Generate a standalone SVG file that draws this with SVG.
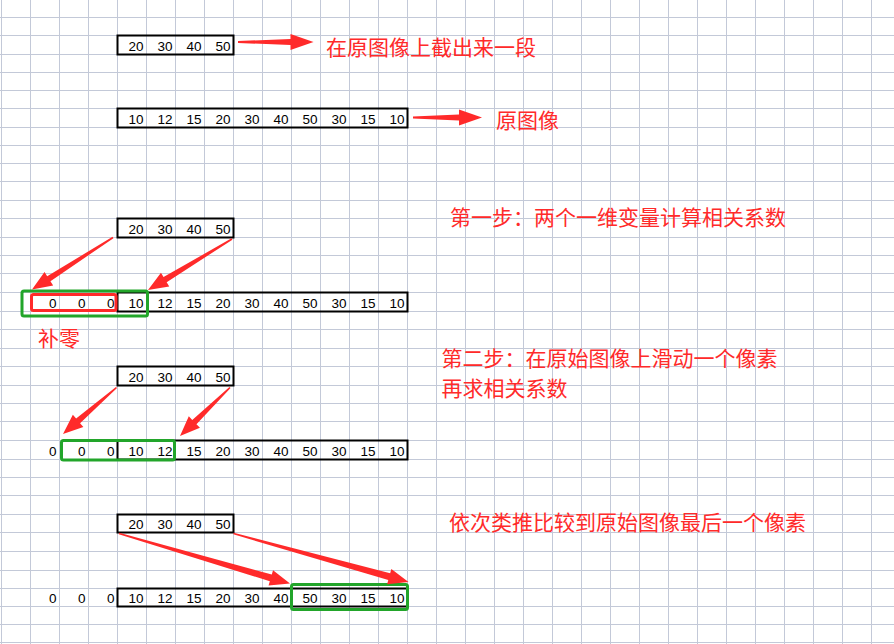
<svg xmlns="http://www.w3.org/2000/svg" width="894" height="644" viewBox="0 0 894 644">
<defs>
<style>
.grid{stroke:#c3c9d8;stroke-width:1;fill:none}
.box{fill:none;stroke:#000;stroke-width:2}
.num{font-family:"Liberation Sans",Arial,sans-serif;font-size:13.5px;fill:#000;text-anchor:end}
.lbl{font-family:"Noto Sans CJK SC","Liberation Sans",sans-serif;font-size:21px;fill:#ff2a2a}
.arr{fill:#ff2a2a;stroke:none}
.gbox{fill:none;stroke:#22a52a;stroke-width:3}
.rbox{fill:none;stroke:#ff2a2a;stroke-width:3}
</style>
</defs>
<rect width="894" height="644" fill="#fff"/>
<g id="grid" class="grid">
<path d="M1.5 0V644M30.5 0V644M59.5 0V644M88.5 0V644M117.5 0V644M146.5 0V644M175.5 0V644M204.5 0V644M233.5 0V644M262.5 0V644M291.5 0V644M320.5 0V644M349.5 0V644M378.5 0V644M407.5 0V644M436.5 0V644M465.5 0V644M494.5 0V644M523.5 0V644M552.5 0V644M581.5 0V644M610.5 0V644M639.5 0V644M668.5 0V644M697.5 0V644M726.5 0V644M755.5 0V644M784.5 0V644M813.5 0V644M842.5 0V644M871.5 0V644"/>
<path d="M0 17.5H894M0 35.5H894M0 54.5H894M0 72.5H894M0 90.5H894M0 108.5H894M0 127.5H894M0 145.5H894M0 163.5H894M0 181.5H894M0 200.5H894M0 218.5H894M0 237.5H894M0 255.5H894M0 273.5H894M0 292.5H894M0 311.5H894M0 329.5H894M0 348.5H894M0 366.5H894M0 385.5H894M0 403.5H894M0 421.5H894M0 440.5H894M0 459.5H894M0 477.5H894M0 495.5H894M0 514.5H894M0 532.5H894M0 551.5H894M0 570.5H894M0 588.5H894M0 606.5H894M0 624.5H894M0 642.5H894"/>
</g>

<g id="segment-top">
<rect class="box" x="117.5" y="35.5" width="116" height="19"/>
<text class="num" x="143.5" y="50.5">20</text><text class="num" x="172.5" y="50.5">30</text><text class="num" x="201.5" y="50.5">40</text><text class="num" x="230.5" y="50.5">50</text>
</g>
<g id="label-segment"><text class="lbl" x="326" y="54.5">在原图像上截出来一段</text></g>

<g id="image-top">
<rect class="box" x="117.5" y="108.5" width="290" height="19"/>
<text class="num" x="143.5" y="123.5">10</text><text class="num" x="172.5" y="123.5">12</text><text class="num" x="201.5" y="123.5">15</text><text class="num" x="230.5" y="123.5">20</text><text class="num" x="259.5" y="123.5">30</text><text class="num" x="288.5" y="123.5">40</text><text class="num" x="317.5" y="123.5">50</text><text class="num" x="346.5" y="123.5">30</text><text class="num" x="375.5" y="123.5">15</text><text class="num" x="404.5" y="123.5">10</text>
</g>
<g id="label-image"><text class="lbl" x="496" y="128">原图像</text></g>

<g id="step1-label"><text class="lbl" x="450" y="224.5">第一步：两个一维变量计算相关系数</text></g>
<g id="step1-segment">
<rect class="box" x="117.5" y="218.5" width="116" height="19"/>
<text class="num" x="143.5" y="233.5">20</text><text class="num" x="172.5" y="233.5">30</text><text class="num" x="201.5" y="233.5">40</text><text class="num" x="230.5" y="233.5">50</text>
</g>
<g id="step1-image">
<rect class="box" x="117.5" y="292.5" width="290" height="19"/>
<text class="num" x="56.5" y="307.5">0</text><text class="num" x="85.5" y="307.5">0</text><text class="num" x="114.5" y="307.5">0</text>
<text class="num" x="143.5" y="307.5">10</text><text class="num" x="172.5" y="307.5">12</text><text class="num" x="201.5" y="307.5">15</text><text class="num" x="230.5" y="307.5">20</text><text class="num" x="259.5" y="307.5">30</text><text class="num" x="288.5" y="307.5">40</text><text class="num" x="317.5" y="307.5">50</text><text class="num" x="346.5" y="307.5">30</text><text class="num" x="375.5" y="307.5">15</text><text class="num" x="404.5" y="307.5">10</text>
</g>
<g id="step1-window"><rect class="gbox" x="22" y="291" width="125.5" height="25" rx="2"/></g>
<g id="step1-zeros"><rect class="rbox" x="31.5" y="294.5" width="84.5" height="16" rx="2"/></g>
<g id="label-pad"><text class="lbl" x="38" y="345.5">补零</text></g>

<g id="step2-label"><text class="lbl" x="441.5" y="366">第二步：在原始图像上滑动一个像素</text><text class="lbl" x="441.5" y="396">再求相关系数</text></g>
<g id="step2-segment">
<rect class="box" x="117.5" y="366.5" width="116" height="19"/>
<text class="num" x="143.5" y="381.5">20</text><text class="num" x="172.5" y="381.5">30</text><text class="num" x="201.5" y="381.5">40</text><text class="num" x="230.5" y="381.5">50</text>
</g>
<g id="step2-image">
<rect class="box" x="117.5" y="440.5" width="290" height="19"/>
<text class="num" x="56.5" y="455.5">0</text><text class="num" x="85.5" y="455.5">0</text><text class="num" x="114.5" y="455.5">0</text>
<text class="num" x="143.5" y="455.5">10</text><text class="num" x="172.5" y="455.5">12</text><text class="num" x="201.5" y="455.5">15</text><text class="num" x="230.5" y="455.5">20</text><text class="num" x="259.5" y="455.5">30</text><text class="num" x="288.5" y="455.5">40</text><text class="num" x="317.5" y="455.5">50</text><text class="num" x="346.5" y="455.5">30</text><text class="num" x="375.5" y="455.5">15</text><text class="num" x="404.5" y="455.5">10</text>
</g>
<g id="step2-window"><rect class="gbox" x="61.5" y="440.5" width="113" height="19.5" rx="2"/></g>

<g id="step3-label"><text class="lbl" x="449" y="529.5">依次类推比较到原始图像最后一个像素</text></g>
<g id="step3-segment">
<rect class="box" x="117.5" y="514.5" width="116" height="18"/>
<text class="num" x="143.5" y="529">20</text><text class="num" x="172.5" y="529">30</text><text class="num" x="201.5" y="529">40</text><text class="num" x="230.5" y="529">50</text>
</g>
<g id="step3-image">
<rect class="box" x="117.5" y="588.5" width="290" height="18"/>
<text class="num" x="56.5" y="603">0</text><text class="num" x="85.5" y="603">0</text><text class="num" x="114.5" y="603">0</text>
<text class="num" x="143.5" y="603">10</text><text class="num" x="172.5" y="603">12</text><text class="num" x="201.5" y="603">15</text><text class="num" x="230.5" y="603">20</text><text class="num" x="259.5" y="603">30</text><text class="num" x="288.5" y="603">40</text><text class="num" x="317.5" y="603">50</text><text class="num" x="346.5" y="603">30</text><text class="num" x="375.5" y="603">15</text><text class="num" x="404.5" y="603">10</text>
</g>
<g id="step3-window"><rect class="gbox" x="291.5" y="584.5" width="116" height="25" rx="2"/></g>

<g id="connectors" class="arr">
<polygon points="238,43 290.5,45 290.5,50 313.5,42 290.5,34 290.5,39 238,41"/>
<polygon points="413,118.5 459,120.5 459,125.5 482,117.5 459,109.5 459,114.5 413,116.5"/>
<polygon points="112.57,236.83 47.21,276.17 44.51,271.96 32,289.5 53.15,285.42 50.45,281.21 113.43,238.17"/>
<polygon points="231.58,238.32 163.54,277.06 160.95,272.78 148,290 169.25,286.46 166.66,282.18 232.42,239.68"/>
<polygon points="115.98,386.9 76.13,418.62 72.85,414.84 63,434 83.35,426.92 80.07,423.14 117.02,388.1"/>
<polygon points="229.44,386.93 192.27,419.93 188.79,416.34 180,436 199.93,427.82 196.45,424.23 230.56,388.07"/>
<polygon points="118.78,534.27 269.82,581.25 268.56,585.57 290,583.5 273.04,570.21 271.78,574.53 119.22,532.73"/>
<polygon points="233.29,534.27 388.3,580.03 387.09,584.37 408.5,582 391.37,568.95 390.16,573.29 233.71,532.73"/>
</g>
</svg>
